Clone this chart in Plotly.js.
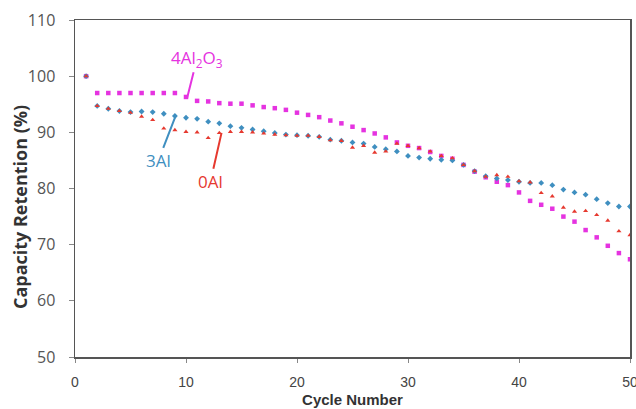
<!DOCTYPE html>
<html>
<head>
<meta charset="utf-8">
<script src="https://cdn.plot.ly/plotly-3.0.1.min.js"></script>
<style>html,body{margin:0;padding:0;background:#fff;}#chart{width:636px;height:409px;}</style>
</head>
<body>
<div id="chart"></div>
<script>
const cycles = Array.from({length: 50}, (_, i) => i + 1);

const al2o3 = [100, 97.0, 97.0, 97.0, 97.0, 97.0, 97.0, 97.0, 97.0, 96.3,
  95.6, 95.5, 95.2, 95.1, 95.1, 94.8, 94.5, 94.3, 94.0, 93.5,
  93.1, 92.7, 92.1, 91.6, 91.0, 90.4, 89.8, 89.1, 88.2, 87.6,
  87.2, 86.5, 85.8, 85.3, 84.2, 83.0, 82.0, 81.2, 80.6, 79.3,
  77.8, 77.1, 76.4, 75.0, 74.1, 72.6, 71.3, 69.8, 68.5, 67.4];

const al3 = [100, 94.7, 94.2, 93.8, 93.6, 93.7, 93.6, 93.3, 92.9, 92.6,
  92.4, 91.9, 91.6, 91.1, 90.8, 90.5, 90.2, 89.9, 89.6, 89.5,
  89.4, 89.2, 88.7, 88.5, 88.2, 88.0, 87.4, 87.0, 86.6, 85.8,
  85.5, 85.3, 85.1, 85.0, 84.2, 83.1, 82.2, 81.8, 81.5, 81.2,
  81.0, 81.0, 80.6, 79.8, 79.3, 78.9, 78.1, 77.4, 76.8, 76.8];

const al0 = [100, 94.7, 94.2, 93.8, 93.5, 92.8, 92.2, 90.7, 90.4, 90.1,
  90.0, 89.0, 89.9, 90.1, 90.1, 90.0, 89.8, 89.6, 89.5, 89.4,
  89.4, 89.2, 88.6, 88.5, 87.3, 87.6, 86.4, 86.6, 88.0, 87.6,
  87.2, 86.6, 85.8, 85.4, 84.2, 83.1, 82.1, 82.4, 82.1, 81.3,
  81.1, 79.2, 78.6, 76.6, 75.9, 76.0, 75.3, 74.3, 72.4, 71.7];

const xTicks = [0, 10, 20, 30, 40, 50];
const yTicks = [50, 60, 70, 80, 90, 100, 110];

const cMag = '#e533e0';
const cBlue = '#3f8fc0';
const cRed = '#e6392f';

const traces = [
  {x: cycles, y: al2o3, mode: 'markers', type: 'scatter', name: '4Al2O3',
   marker: {symbol: 'square', size: 4.5, color: cMag}},
  {x: cycles, y: al3, mode: 'markers', type: 'scatter', name: '3Al',
   marker: {symbol: 'diamond', size: 4.5, color: cBlue}},
  {x: cycles, y: al0, mode: 'markers', type: 'scatter', name: '0Al',
   marker: {symbol: 'triangle-up', size: 4.5, color: cRed}}
];

const annFont = {family: 'Open Sans, Lato, sans-serif', size: 17};

const layout = {
  width: 636, height: 409,
  margin: {l: 75, r: 6, t: 20, b: 52},
  paper_bgcolor: '#fff', plot_bgcolor: '#fff',
  showlegend: false,
  xaxis: {
    range: [0, 50], tickvals: xTicks, ticktext: xTicks.map(String),
    showgrid: false, zeroline: false,
    showline: true, linecolor: '#555', linewidth: 1.5, mirror: true,
    ticks: 'outside', ticklen: 4, tickcolor: '#888',
    ticklabelstandoff: 8, ticklabeloverflow: 'allow',
    tickfont: {family: 'Liberation Sans, Arial, sans-serif', size: 14, color: '#444'},
    title: {text: '<b>Cycle Number</b>', standoff: 5,
      font: {family: 'Liberation Sans, Arial, sans-serif', size: 15, color: '#333'}}
  },
  yaxis: {
    range: [50, 110], tickvals: yTicks, ticktext: yTicks.map(String),
    showgrid: false, zeroline: false,
    showline: true, linecolor: '#555', linewidth: 1.5, mirror: true,
    ticks: 'outside', ticklen: 5, tickcolor: '#888',
    ticklabelstandoff: 10,
    tickfont: {family: 'Open Sans, Lato, sans-serif', size: 16, color: '#555'}
  },
  annotations: [
    {xref: 'paper', yref: 'paper', x: -0.099, y: 0.445, xanchor: 'center', yanchor: 'middle',
     textangle: -90, showarrow: false, text: '<b>Capacity Retention (%)</b>',
     font: {family: 'Open Sans, Lato, sans-serif', size: 18, color: '#333'}},
    {x: 10.1, y: 96.1, ax: 11.0, ay: 103.2, axref: 'x', ayref: 'y',
     text: '4Al<sub>2</sub>O<sub>3</sub>', showarrow: true, arrowhead: 0,
     arrowwidth: 2, arrowcolor: cMag, font: Object.assign({color: cMag}, annFont)},
    {x: 9.1, y: 93.1, ax: 7.5, ay: 84.9, axref: 'x', ayref: 'y',
     text: '3Al', showarrow: true, arrowhead: 0,
     arrowwidth: 2, arrowcolor: cBlue, font: Object.assign({color: cBlue}, annFont)},
    {x: 13.2, y: 89.9, ax: 12.2, ay: 81.2, axref: 'x', ayref: 'y',
     text: '0Al', showarrow: true, arrowhead: 0,
     arrowwidth: 2, arrowcolor: cRed, font: Object.assign({color: cRed}, annFont)}
  ]
};

Plotly.newPlot('chart', traces, layout, {displayModeBar: false, staticPlot: true});
</script>
</body>
</html>
